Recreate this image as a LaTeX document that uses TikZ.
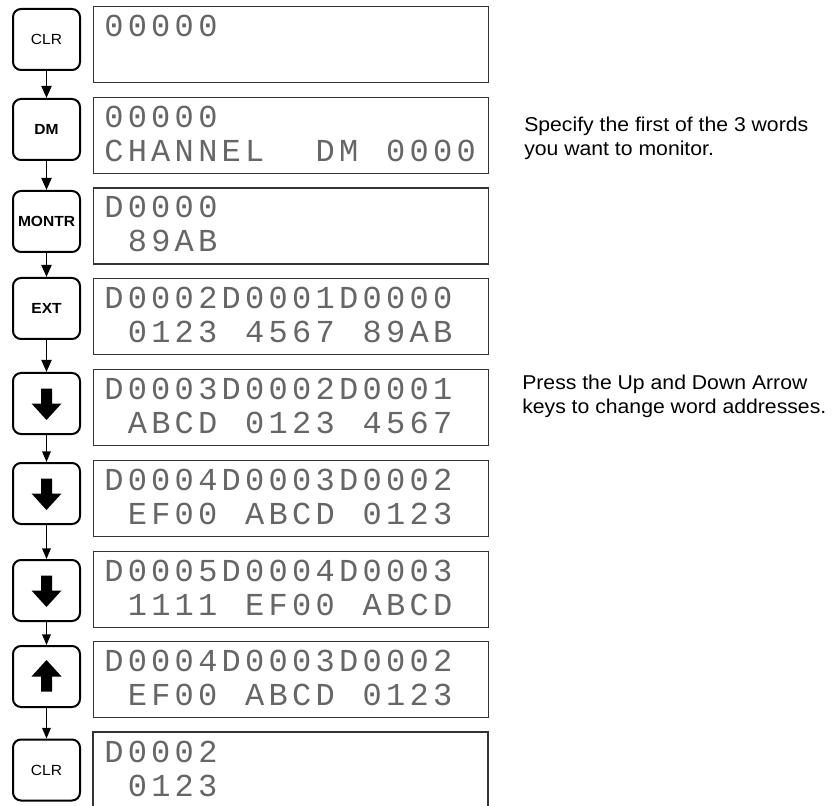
\documentclass[tikz,border=0pt]{standalone}
\usepackage{fontspec}
\usepackage{graphicx}
\setmainfont{Liberation Sans}
\newfontfamily\lcdfont{Liberation Mono}
\newfontfamily\labfont[FakeStretch=1.06]{Liberation Sans}
\usetikzlibrary{arrows.meta}

\newlength\lcdpitch \setlength\lcdpitch{17.625pt}
\def\lcd#1{\lcdloop#1\relax}
\def\lcdloop#1{\ifx#1\relax\else\makebox[\lcdpitch][l]{#1}\expandafter\lcdloop\fi}

\tikzset{
 key/.style={draw, line width=1.5pt, rounded corners=6pt, minimum width=50.25pt,
   minimum height=45.75pt, inner sep=0pt, font=\labfont\fontsize{11}{13}\selectfont},
 keyb/.style={key, font=\labfont\bfseries\fontsize{11}{13}\selectfont},
 disp/.style={draw=black!80, line width=0.8pt, minimum width=296.25pt,
   minimum height=57pt, inner sep=0pt, anchor=north west},
 dispedge/.style={draw=black!80, line width=0.8pt},
 lcdtxt/.style={anchor=base west, inner sep=0pt,
   font=\lcdfont\fontsize{24}{24}\selectfont, text=black!60},
 conn/.style={line width=1.4pt, -{Triangle[length=9pt,width=7.5pt]}},
 connthin/.style={line width=1pt, -{Triangle[length=8pt,width=6.5pt]}},
 note/.style={anchor=base west, inner sep=0pt, font=\labfont\fontsize{15}{18}\selectfont},
 glyph/.style={fill=black},
}

\begin{document}
\begin{tikzpicture}[x=0.75pt,y=-0.75pt]
\useasboundingbox (0,0) rectangle (840,806);

% keys
\node[key]  (k1) at (46.5,39.5)  {CLR};
\node[keyb] (k2) at (46.5,129.5) {DM};
\node[keyb] (k3) at (46.5,221.5) {MONTR};
\node[keyb] (k4) at (46.5,308.5) {EXT};
\node[key]  (k5) at (46.5,403.5) {};
\node[key]  (k6) at (46.5,493.5) {};
\node[key]  (k7) at (46.5,590.5) {};
\node[key]  (k8) at (46.5,676.5) {};
\node[key]  (k9) at (46.5,770)   {CLR};

% arrow glyphs on keys
\fill[glyph, shift={(k5.center)}] (-5.5,-15) -- (5.5,-15) -- (5.5,0) -- (15,0) -- (0,16.5) -- (-15,0) -- (-5.5,0) -- cycle;
\fill[glyph, shift={(k6.center)}] (-5.5,-15) -- (5.5,-15) -- (5.5,0) -- (15,0) -- (0,16.5) -- (-15,0) -- (-5.5,0) -- cycle;
\fill[glyph, shift={(k7.center)}] (-5.5,-15) -- (5.5,-15) -- (5.5,0) -- (15,0) -- (0,16.5) -- (-15,0) -- (-5.5,0) -- cycle;
\fill[glyph, shift={(k8.center)}] (-5.5,15) -- (5.5,15) -- (5.5,0) -- (15,0) -- (0,-16.5) -- (-15,0) -- (-5.5,0) -- cycle;

% connectors
\draw[conn] (k1.south) -- (k2.north);
\draw[conn] (k2.south) -- (k3.north);
\draw[conn] (k3.south) -- (k4.north);
\draw[conn] (k4.south) -- (k5.north);
\draw[connthin] (k5.south) -- (k6.north);
\draw[connthin] (k6.south) -- (k7.north);
\draw[connthin] (k7.south) -- (k8.north);
\draw[connthin] (k8.south) -- (k9.north);

% displays
\node[disp] (d1) at (93,6) {};
\node[disp] (d2) at (93,96.75) {};
\node[disp] (d3) at (93,187.5) {};
\node[disp] (d4) at (93,278.25) {};
\node[disp] (d5) at (93,369) {};
\node[disp] (d6) at (93,459.75) {};
\node[disp] (d7) at (93,550.5) {};
\node[disp] (d8) at (93,641.25) {};
\draw[dispedge] (93,806) -- (93,732) -- (488,732) -- (488,806);

% display texts
\node[lcdtxt] (t1a) at (104,36.5)   {\lcd{00000}};
\node[lcdtxt] (t2a) at (104,127.25) {\lcd{00000}};
\node[lcdtxt] (t2b) at (104,161.25) {\lcd{CHANNEL~~DM~0000}};
\node[lcdtxt] (t3a) at (104,218)    {\lcd{D0000}};
\node[lcdtxt] (t3b) at (104,252)    {\lcd{~89AB}};
\node[lcdtxt] (t4a) at (104,308.75) {\lcd{D0002D0001D0000}};
\node[lcdtxt] (t4b) at (104,342.75) {\lcd{~0123~4567~89AB}};
\node[lcdtxt] (t5a) at (104,399.5)  {\lcd{D0003D0002D0001}};
\node[lcdtxt] (t5b) at (104,433.5)  {\lcd{~ABCD~0123~4567}};
\node[lcdtxt] (t6a) at (104,490.25) {\lcd{D0004D0003D0002}};
\node[lcdtxt] (t6b) at (104,524.25) {\lcd{~EF00~ABCD~0123}};
\node[lcdtxt] (t7a) at (104,581)    {\lcd{D0005D0004D0003}};
\node[lcdtxt] (t7b) at (104,615)    {\lcd{~1111~EF00~ABCD}};
\node[lcdtxt] (t8a) at (104,671.75) {\lcd{D0004D0003D0002}};
\node[lcdtxt] (t8b) at (104,705.75) {\lcd{~EF00~ABCD~0123}};
\node[lcdtxt] (t9a) at (104,762.5)  {\lcd{D0002}};
\node[lcdtxt] (t9b) at (104,796.5)  {\lcd{~0123}};

% notes
\node[note] (n1) at (524,132) {Specify the first of the 3 words};
\node[note] (n2) at (524,156) {you want to monitor.};
\node[note] (n3) at (522,389) {Press the Up and Down Arrow};
\node[note] (n4) at (522,413) {keys to change word addresses.};
\end{tikzpicture}
\end{document}
